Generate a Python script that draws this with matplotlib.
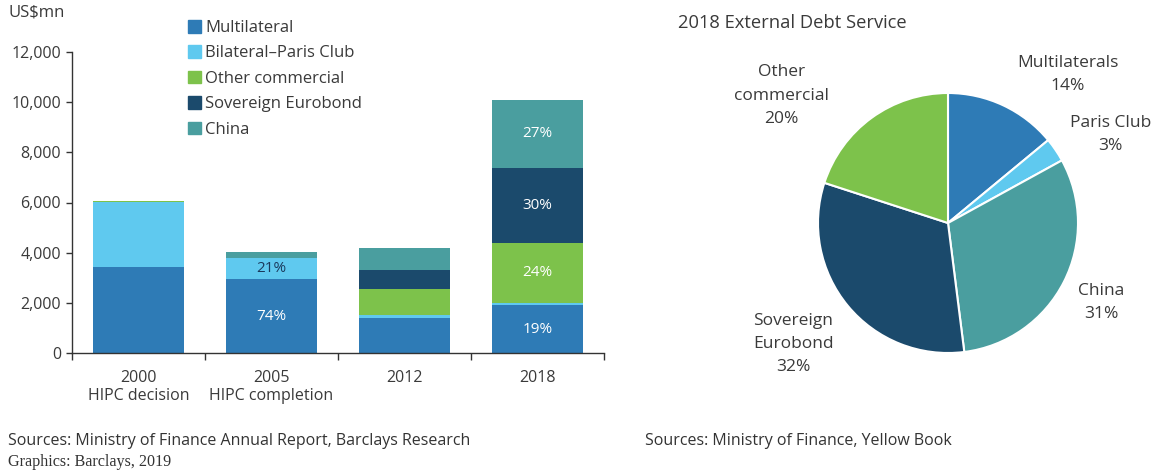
import matplotlib
matplotlib.use("Agg")
import matplotlib.pyplot as plt
from matplotlib.patches import Patch
import numpy as np

plt.rcParams['font.family'] = ['Open Sans', 'DejaVu Sans']
TXT = '#3a3a3a'

# stacked bars, US$mn
years = ['2000\nHIPC decision', '2005\nHIPC completion', '2012', '2018']
series = ['Multilateral', 'Bilateral\u2013Paris Club', 'Other commercial',
          'Sovereign Eurobond', 'China']
multilateral = [3440, 2950, 1380, 1910]
paris_club = [2590, 850, 130, 95]
other_commercial = [30, 0, 1050, 2380]
eurobond = [0, 0, 745, 3000]
china = [0, 210, 890, 2720]
colors = ['#2e7bb6', '#5fc9ef', '#7dc24b', '#1b4a6c', '#4a9e9f']

# which segments get a share label, and in what colour
share_labels = {(1, 0): 'white', (1, 1): '#1b3a5c',
                (3, 0): 'white', (3, 2): 'white', (3, 3): 'white', (3, 4): 'white'}

# pie, 2018 external debt service (%)
pie_names = ['Multilaterals', 'Paris Club', 'China', 'Sovereign\nEurobond',
             'Other\ncommercial']
pie_shares = [14, 3, 31, 32, 20]
pie_colors = ['#2e7bb6', '#5fc9ef', '#4a9e9f', '#1b4a6c', '#7dc24b']
pie_label_xy = [(0.92, 1.14), (1.25, 0.68), (1.18, -0.61), (-1.19, -0.93),
                (-1.28, 0.98)]

W, H = 1161, 472
fig = plt.figure(figsize=(W / 100, H / 100), dpi=100)

# ---- bar chart
ax = fig.add_axes([72 / W, 1 - 353 / H, 532 / W, 301 / H])
stack = np.array([multilateral, paris_club, other_commercial, eurobond, china], float)
x = np.arange(len(years))
bottom = np.zeros(len(years))
for i, vals in enumerate(stack):
    ax.bar(x, vals, 0.677, bottom=bottom, color=colors[i], linewidth=0)
    bottom += vals
totals = stack.sum(axis=0)
cum = np.vstack([np.zeros(len(years)), np.cumsum(stack, axis=0)])
for (j, i), c in share_labels.items():
    mid = (cum[i, j] + cum[i + 1, j]) / 2
    ax.text(x[j], mid, '{:.0f}%'.format(100 * stack[i, j] / totals[j]),
            ha='center', va='center', color=c, fontsize=11)

ax.set_xlim(-0.5, len(years) - 0.5)
ax.set_ylim(0, 12000)
ax.set_yticks(np.arange(0, 12001, 2000))
ax.set_yticklabels(['{:,}'.format(v) for v in range(0, 12001, 2000)])
ax.set_xticks(np.arange(-0.5, len(years), 1))
ax.set_xticklabels([])
ax.set_xticks(x, minor=True)
ax.set_xticklabels(years, minor=True)
ax.tick_params(axis='x', which='minor', length=0, pad=12, labelsize=11.5, colors=TXT)
ax.tick_params(axis='x', which='major', length=5, width=1, color='#333333')
ax.tick_params(axis='y', length=4, width=1, color='#333333', labelsize=11.5,
               labelcolor=TXT, pad=4)
for s in ['top', 'right']:
    ax.spines[s].set_visible(False)
for s in ['left', 'bottom']:
    ax.spines[s].set_color('#333333')
    ax.spines[s].set_linewidth(1)

handles = [Patch(color=c) for c in colors]
fig.legend(handles, series, loc='upper left', bbox_to_anchor=(188 / W, 1 - 20 / H),
           frameon=False, fontsize=12, handlelength=0.78, handleheight=0.78,
           handletextpad=0.25, labelspacing=0.56, borderpad=0, borderaxespad=0,
           labelcolor=TXT)

fig.text(8 / W, 1 - 12 / H, 'US$mn', fontsize=12, color=TXT, va='center')

# ---- pie chart
pax = fig.add_axes([(948 - 130) / W, 1 - 353 / H, 260 / W, 260 / H])
pax.pie(pie_shares, colors=pie_colors, startangle=90, counterclock=False,
        wedgeprops=dict(edgecolor='white', linewidth=1.5))
pax.set_xlim(-1, 1)
pax.set_ylim(-1, 1)
pax.set_aspect('equal')
for name, v, (lx, ly) in zip(pie_names, pie_shares, pie_label_xy):
    pax.text(lx, ly, '{}\n{}%'.format(name, v), ha='center', va='center',
             fontsize=12.5, color=TXT, linespacing=1.6)

fig.text(678 / W, 1 - 23 / H, '2018 External Debt Service', fontsize=13.2,
         color=TXT, va='center')

# ---- sources
fig.text(8 / W, 1 - 441 / H, 'Sources: Ministry of Finance Annual Report, Barclays Research',
         fontsize=11.5, color='#333333', va='center')
fig.text(645 / W, 1 - 441 / H, 'Sources: Ministry of Finance, Yellow Book',
         fontsize=11.5, color='#333333', va='center')
fig.text(8 / W, 1 - 462 / H, 'Graphics: Barclays, 2019', fontsize=11.6,
         family=['Liberation Serif', 'DejaVu Serif'], color='#333333', va='center')

fig.savefig('out.png', dpi=100, facecolor='white')
